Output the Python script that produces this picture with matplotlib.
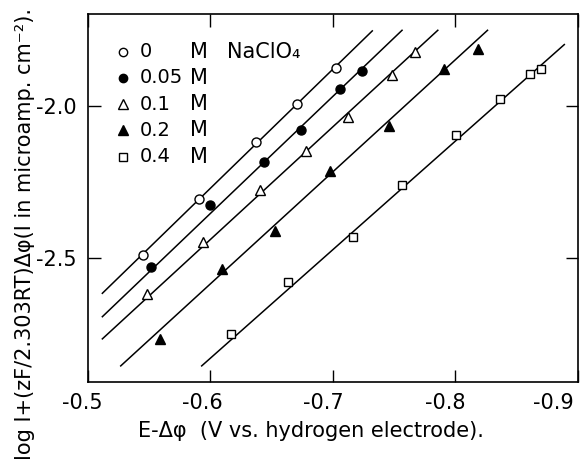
import matplotlib
matplotlib.use('Agg')
import matplotlib.pyplot as plt
import matplotlib.transforms as mtransforms

# NaClO4 concentrations (legend)
conc = ['0', '0.05', '0.1', '0.2', '0.4']

# measured points, E - dphi (V) and log I + (zF/2.303RT) dphi
x_0 = [-0.5448, -0.5908, -0.6376, -0.6706, -0.7024]
y_0 = [-2.491, -2.307, -2.117, -1.994, -1.874]

x_005 = [-0.5519, -0.5998, -0.6438, -0.6736, -0.7057, -0.7241]
y_005 = [-2.529, -2.326, -2.185, -2.077, -1.942, -1.885]

x_01 = [-0.5483, -0.5943, -0.6403, -0.6781, -0.7125, -0.7484, -0.7673]
y_01 = [-2.618, -2.446, -2.276, -2.147, -2.035, -1.898, -1.821]

x_02 = [-0.5592, -0.6097, -0.6525, -0.6979, -0.7457, -0.7904, -0.8187]
y_02 = [-2.767, -2.536, -2.410, -2.213, -2.066, -1.879, -1.813]

x_04 = [-0.6168, -0.6633, -0.7168, -0.7565, -0.8006, -0.8368, -0.8606, -0.8701]
y_04 = [-2.749, -2.578, -2.430, -2.258, -2.096, -1.976, -1.895, -1.876]

# straight lines drawn through each set (end points)
fit_x = [[-0.5118, -0.7322], [-0.5118, -0.7565], [-0.5118, -0.7857],
         [-0.5268, -0.8263], [-0.5929, -0.8890]]
fit_y = [[-2.616, -1.752], [-2.693, -1.750], [-2.766, -1.750],
         [-2.855, -1.750], [-2.855, -1.797]]

xticks = [-0.5, -0.6, -0.7, -0.8, -0.9]
yticks = [-2.0, -2.5]

plt.rcParams['font.family'] = ['DejaVu Sans']

fig = plt.figure(figsize=(5.86, 4.65), dpi=100)
ax = fig.add_axes([0.150, 0.1785, 0.836, 0.791])

xs = [x_0, x_005, x_01, x_02, x_04]
ys = [y_0, y_005, y_01, y_02, y_04]
markers = ['o', 'o', '^', '^', 's']
faces = ['white', 'black', 'white', 'black', 'white']
msizes = [6.5, 6.5, 7, 7, 6]

for fx, fy in zip(fit_x, fit_y):
    ax.plot(fx, fy, color='black', lw=1.1, zorder=2)

for x, y, m, fc, ms in zip(xs, ys, markers, faces, msizes):
    ax.plot(x, y, linestyle='none', marker=m, markerfacecolor=fc,
            markeredgecolor='black', markeredgewidth=1.0, markersize=ms, zorder=3)

ax.set_xlim(-0.5, -0.8977)
ax.set_ylim(-2.908, -1.697)
ax.set_xticks(xticks)
ax.set_xticklabels(['-0.5', '-0.6', '-0.7', '-0.8', '-0.9'])
ax.set_yticks(yticks)
ax.set_yticklabels(['-2.0', '-2.5'])
ax.tick_params(direction='in', top=True, right=True, length=9, width=1,
               labelsize=15, pad=8)
for s in ax.spines.values():
    s.set_linewidth(1.2)

# the printed labels sit a little left of their ticks
shifts = [-6, -8, -10, -10, -24]
for lab, dx in zip(ax.get_xticklabels(), shifts):
    lab.set_transform(lab.get_transform() +
                      mtransforms.ScaledTranslation(dx / 100, 0, fig.dpi_scale_trans))

# hand-made legend, as in the original
rows = [0.8976, 0.827, 0.7546, 0.6848, 0.6122]
for c, m, fc, ms, ry in zip(conc, markers, faces, msizes, rows):
    ax.plot([0.0714], [ry], transform=ax.transAxes, marker=m, markerfacecolor=fc,
            markeredgecolor='black', markeredgewidth=1.0, markersize=ms - 0.5,
            linestyle='none')
    ax.text(0.106, ry, c, transform=ax.transAxes, fontsize=14, va='center', ha='left')
    ax.text(0.208, ry, 'M', transform=ax.transAxes, fontsize=15, va='center', ha='left')
ax.text(0.284, rows[0], 'NaClO₄', transform=ax.transAxes, fontsize=15,
        va='center', ha='left')

fig.text(0.53, 0.074, 'E-Δφ  (V vs. hydrogen electrode).', fontsize=15,
         ha='center', va='center')
fig.text(0.042, 0.497, 'log I+(zF/2.303RT)Δφ(I in microamp. cm⁻²).', fontsize=15,
         ha='center', va='center', rotation=90)

fig.savefig('out.png', dpi=100)
